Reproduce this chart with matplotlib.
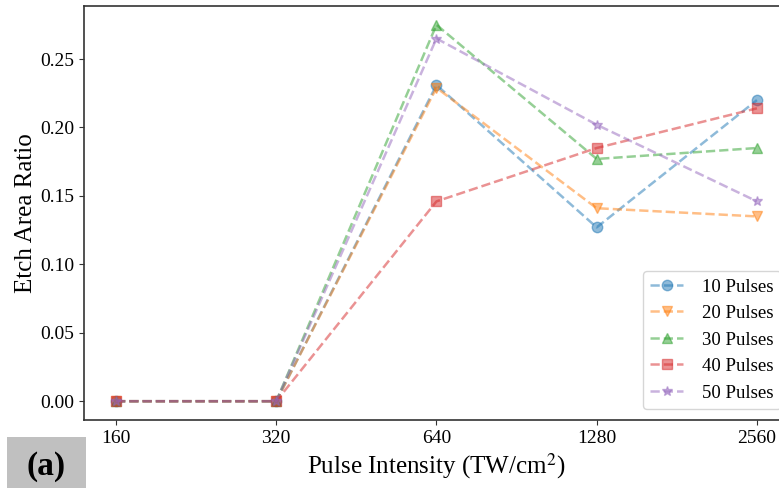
import matplotlib.pyplot as plt
from matplotlib.patches import Rectangle

plt.rcParams['font.family'] = ['Liberation Serif', 'DejaVu Serif']
plt.rcParams['mathtext.fontset'] = 'stix'

intensity = [160, 320, 640, 1280, 2560]
labels = ['10 Pulses', '20 Pulses', '30 Pulses', '40 Pulses', '50 Pulses']
p10 = [0.0, 0.0, 0.231, 0.127, 0.220]
p20 = [0.0, 0.0, 0.229, 0.141, 0.135]
p30 = [0.0, 0.0, 0.275, 0.177, 0.185]
p40 = [0.0, 0.0, 0.146, 0.185, 0.214]
p50 = [0.0, 0.0, 0.265, 0.202, 0.146]
markers = ['o', 'v', '^', 's', '*']

fig = plt.figure(figsize=(7.79, 4.88), dpi=100)
ax = fig.add_axes([0.1078, 0.1393, 0.905, 0.8484])

for vals, lab, m in zip([p10, p20, p30, p40, p50], labels, markers):
    ax.plot(intensity, vals, linestyle='--', marker=m, markersize=7.5,
            alpha=0.5, linewidth=1.8, label=lab)

ax.set_xscale('log', base=2)
ax.set_xticks(intensity)
ax.set_xticklabels([str(v) for v in intensity])
ax.minorticks_off()
ax.set_yticks([0.0, 0.05, 0.10, 0.15, 0.20, 0.25])
ax.set_yticklabels(['0.00', '0.05', '0.10', '0.15', '0.20', '0.25'])
ax.tick_params(labelsize=14, color='#333333')
for sp in ax.spines.values():
    sp.set_color('#333333')
    sp.set_linewidth(1.2)

ax.set_xlabel('Pulse Intensity (TW/cm$^2$)', fontsize=18, labelpad=3)
ax.set_ylabel('Etch Area Ratio', fontsize=18, labelpad=2)

ax.legend(loc='lower right', fontsize=13.5, bbox_to_anchor=(0.9887, 0.0266),
          borderaxespad=0, labelspacing=0.5, handlelength=1.75, handletextpad=1.0)

fig.patches.append(Rectangle((7 / 779, 0), 79 / 779, 51 / 488, transform=fig.transFigure,
                             facecolor='#c0c0c0', edgecolor='none'))
fig.text(46 / 779, 22 / 488, '(a)', fontsize=24, fontweight='bold', va='center', ha='center')

fig.savefig('out.png', dpi=100)
